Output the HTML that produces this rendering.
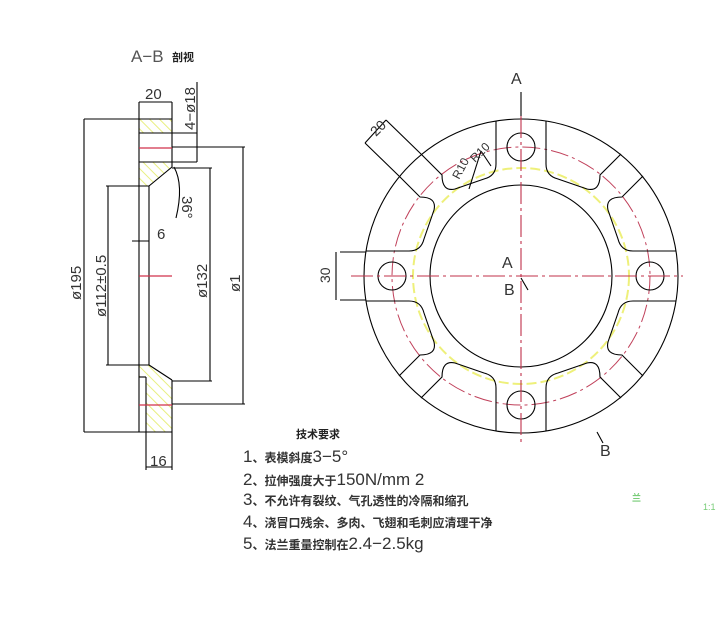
<!DOCTYPE html>
<html><head><meta charset="utf-8"><style>
html,body{margin:0;padding:0;background:#fff;}
svg{display:block;}
text{font-family:"Liberation Sans","Noto Sans CJK SC",sans-serif;}
.cj{font-family:"Noto Sans CJK SC","WenQuanYi Zen Hei",sans-serif;font-weight:bold;}
</style></head><body>
<svg width="724" height="632" viewBox="0 0 724 632" xmlns="http://www.w3.org/2000/svg">
<defs>
<pattern id="h" width="7" height="7" patternUnits="userSpaceOnUse" patternTransform="rotate(-45)">
<line x1="0" y1="0" x2="0" y2="7" stroke="#e8ef80" stroke-width="2"/>
</pattern>
<g id="pk">
<path d="M25,-155 L25,-112 Q25,-100 37,-97 L66,-87 Q79,-84 79,-101 L100,-122" fill="none" stroke="#000" stroke-width="1.1"/>
<path d="M155,-25 L112,-25 Q100,-25 97,-37 L87,-66 Q84,-79 101,-79 L122,-100" fill="none" stroke="#000" stroke-width="1.1"/>
</g>
</defs>
<rect width="724" height="632" fill="#fff"/>

<text x="131" y="62" font-size="17" fill="#555">A−B</text>
<text x="172" y="61" font-size="11" class="cj" fill="#222">剖视</text>

<rect x="139" y="119" width="33" height="14" fill="url(#h)"/>
<polygon points="139,162 172,162 172,167 149,186 139,186" fill="url(#h)"/>
<polygon points="146,367 149,365 172,380 172,432 146,432" fill="url(#h)"/>
<polygon points="139,365 149,365 146,367 146,377 139,377" fill="url(#h)"/>

<g stroke="#000" stroke-width="1.1" fill="none">
<line x1="139" y1="119" x2="139" y2="432"/>
<line x1="172" y1="102" x2="172" y2="167"/>
<line x1="172" y1="380" x2="172" y2="470"/>
<line x1="139" y1="102" x2="139" y2="119"/>
<line x1="139" y1="119" x2="172" y2="119"/>
<line x1="139" y1="432" x2="172" y2="432"/>
<line x1="139" y1="133" x2="172" y2="133"/>
<line x1="139" y1="162" x2="197" y2="162"/>
<line x1="172" y1="133" x2="197" y2="133"/>
<line x1="149" y1="186" x2="149" y2="365"/>
<line x1="149" y1="186" x2="172" y2="167"/>
<line x1="149" y1="365" x2="172" y2="380"/>
<line x1="139" y1="377" x2="146" y2="377"/>
<line x1="146" y1="377" x2="146" y2="470"/>
<line x1="139" y1="102" x2="172" y2="102"/>
<line x1="197" y1="82" x2="197" y2="162"/>
<line x1="84" y1="119" x2="139" y2="119"/>
<line x1="84" y1="432" x2="139" y2="432"/>
<line x1="84" y1="119" x2="84" y2="432"/>
<line x1="106" y1="186" x2="149" y2="186"/>
<line x1="106" y1="365" x2="149" y2="365"/>
<line x1="108" y1="186" x2="108" y2="365"/>
<line x1="132" y1="241" x2="149" y2="241"/>
<line x1="172" y1="168" x2="212" y2="168"/>
<line x1="172" y1="381" x2="212" y2="381"/>
<line x1="210" y1="168" x2="210" y2="381"/>
<line x1="172" y1="147" x2="245" y2="147"/>
<line x1="172" y1="404" x2="245" y2="404"/>
<line x1="243" y1="147" x2="243" y2="404"/>
<line x1="146" y1="467" x2="172" y2="467"/>
<path d="M174,167 Q184,185 176,218"/>
</g>
<g stroke="#d0304a" stroke-width="1.2">
<line x1="139" y1="148" x2="172" y2="148"/>
<line x1="139" y1="276" x2="172" y2="276"/>
<line x1="139" y1="405" x2="172" y2="405"/>
</g>
<g font-size="15" fill="#333">
<text x="145" y="99">20</text>
<text x="150" y="466">16</text>
<text x="157" y="239">6</text>
<text transform="translate(195,130) rotate(-90)">4−ø18</text>
<text transform="translate(81,300) rotate(-90)">ø195</text>
<text transform="translate(106,317) rotate(-90)">ø112±0.5</text>
<text transform="translate(207,298) rotate(-90)">ø132</text>
<text transform="translate(240,292) rotate(-90)">ø1</text>
<text transform="translate(182,196) rotate(90)">36°</text>
</g>

<g transform="translate(521,276)">
<circle r="108" fill="none" stroke="#eef07a" stroke-width="2" stroke-dasharray="10,4"/>
<circle r="129" fill="none" stroke="#c0405a" stroke-width="1" stroke-dasharray="18,4,3,4"/>
<circle r="157" fill="none" stroke="#000" stroke-width="1.1"/>
<circle r="91" fill="none" stroke="#000" stroke-width="1.1"/>
<circle cx="0" cy="-129" r="14" fill="none" stroke="#000" stroke-width="1.1"/>
<circle cx="0" cy="129" r="14" fill="none" stroke="#000" stroke-width="1.1"/>
<circle cx="-129" cy="0" r="14" fill="none" stroke="#000" stroke-width="1.1"/>
<circle cx="129" cy="0" r="14" fill="none" stroke="#000" stroke-width="1.1"/>
<use href="#pk"/>
<use href="#pk" transform="rotate(90)"/>
<use href="#pk" transform="rotate(180)"/>
<use href="#pk" transform="rotate(270)"/>
<g stroke="#000" stroke-width="1.1" fill="none">
<line x1="-181" y1="-24" x2="-155" y2="-24"/>
<line x1="-181" y1="24" x2="-155" y2="24"/>
<line x1="-100" y1="-122" x2="-135" y2="-156"/>
<line x1="-122" y1="-100" x2="-156" y2="-133"/>
<line x1="-135" y1="-156" x2="-156" y2="-133"/>
<line x1="-185" y1="-24" x2="-185" y2="24"/>
<line x1="0" y1="-184" x2="0" y2="-160"/>
<line x1="0" y1="2" x2="7" y2="14"/>
<line x1="76" y1="156" x2="82" y2="167"/>
<line x1="-52" y1="-87" x2="-40" y2="-125"/>
<line x1="-40" y1="-125" x2="-30" y2="-110"/>
</g>
<line x1="0" y1="-160" x2="0" y2="168" stroke="#c0304a" stroke-width="1.1" stroke-dasharray="22,4,3,4"/>
<line x1="-170" y1="0" x2="162" y2="0" stroke="#c0304a" stroke-width="1.1" stroke-dasharray="22,4,3,4"/>
</g>
<g font-size="16" fill="#333">
<text x="511" y="84">A</text>
<text x="502" y="268">A</text>
<text x="504" y="295">B</text>
<text x="600" y="456">B</text>
<text transform="translate(330,283) rotate(-90)" font-size="14">30</text>
<text transform="translate(376,137) rotate(-45)" font-size="14">20</text>
<text transform="translate(459,180) rotate(-62)" font-size="12">R10</text>
<text transform="translate(475,163) rotate(-45)" font-size="12">R10</text>
</g>

<text x="296" y="438" font-size="11" class="cj" fill="#222">技术要求</text>
<g fill="#333">
<text x="243" y="462" font-size="17">1<tspan class="cj" font-size="12">、表模斜度</tspan>3−5°</text>
<text x="243" y="485" font-size="17">2<tspan class="cj" font-size="12">、拉伸强度大于</tspan>150N/mm  2</text>
<text x="243" y="505" font-size="17">3<tspan class="cj" font-size="12">、不允许有裂纹、气孔透性的冷隔和缩孔</tspan></text>
<text x="243" y="527" font-size="17">4<tspan class="cj" font-size="12">、浇冒口残余、多肉、飞翅和毛刺应清理干净</tspan></text>
<text x="243" y="549" font-size="17">5<tspan class="cj" font-size="12">、法兰重量控制在</tspan>2.4−2.5kg</text>
</g>
<text x="632" y="501" font-size="9" fill="#7c7" class="cj">兰</text>
<text x="703" y="510" font-size="9" fill="#7c7">1:1</text>
</svg>
</body></html>
